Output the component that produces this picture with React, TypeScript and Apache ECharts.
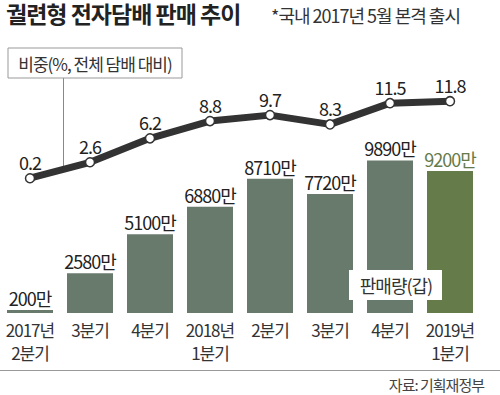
import React, { useEffect, useRef } from "react";
import * as echarts from "echarts";

const categories = ["2017년\n2분기", "3분기", "4분기", "2018년\n1분기", "2분기", "3분기", "4분기", "2019년\n1분기"];
const salesValues = [200, 2580, 5100, 6880, 8710, 7720, 9890, 9200];
const shareValues = [0.2, 2.6, 6.2, 8.8, 9.7, 8.3, 11.5, 11.8];

const FONT = "'Noto Sans CJK KR', 'Noto Sans', sans-serif";
const BAR = "#687a6b";
const GREEN = "#657b49";

export default function App() {
  const ref = useRef<HTMLDivElement>(null);
  useEffect(() => {
    if (!ref.current) return;
    const chart = echarts.init(ref.current, undefined, { renderer: "svg" });
    const last = salesValues.length - 1;
    chart.setOption({
      animation: false,
      backgroundColor: "#ffffff",
      textStyle: { fontFamily: FONT },
      grid: { left: 0, right: 20, top: 60, bottom: 82 },
      xAxis: {
        type: "category",
        data: categories,
        axisLine: { show: false },
        axisTick: { show: false },
        axisLabel: { interval: 0, color: "#333", fontSize: 17, lineHeight: 23, margin: 5, fontFamily: FONT },
      },
      yAxis: [
        { type: "value", min: 0, max: 16400, show: false, splitLine: { show: false } },
        { type: "value", min: -20.1, max: 18, show: false, splitLine: { show: false } },
      ],
      series: [
        {
          type: "bar",
          yAxisIndex: 0,
          barWidth: 46,
          data: salesValues.map((v, i) => ({
            value: v,
            itemStyle: { color: i === last ? GREEN : BAR },
            label: { color: i === last ? GREEN : "#222" },
          })),
          label: {
            show: true,
            position: "top",
            distance: 3,
            fontSize: 18,
            fontFamily: FONT,
            formatter: (p: any) => `${p.value}만`,
          },
        },
        {
          type: "line",
          yAxisIndex: 1,
          data: shareValues,
          z: 5,
          symbol: "circle",
          symbolSize: 9,
          lineStyle: { color: "#333", width: 7, cap: "round", join: "round" },
          itemStyle: { color: "#fff", borderColor: "#333", borderWidth: 1.5 },
          label: {
            show: true,
            position: "top",
            distance: 2,
            fontSize: 18,
            color: "#222",
            fontFamily: FONT,
            formatter: (p: any) => `${p.value}`,
          },
        },
      ],
      graphic: [
        {
          type: "text",
          x: 6,
          y: 13,
          style: { text: "궐련형 전자담배 판매 추이", fill: "#222", font: `bold 23px ${FONT}`, verticalAlign: "middle" },
        },
        {
          type: "text",
          x: 271,
          y: 15,
          style: { text: "*국내 2017년 5월 본격 출시", fill: "#333", font: `18px ${FONT}`, verticalAlign: "middle" },
        },
        {
          type: "rect",
          shape: { x: 8, y: 48, width: 174, height: 30 },
          style: { fill: "#fff", stroke: "#999", lineWidth: 1 },
          z: 3,
        },
        {
          type: "text",
          x: 95,
          y: 63,
          z: 4,
          style: { text: "비중(%, 전체 담배 대비)", fill: "#333", font: `17px ${FONT}`, align: "center", verticalAlign: "middle" },
        },
        {
          type: "line",
          shape: { x1: 63.5, y1: 78, x2: 63.5, y2: 166 },
          style: { stroke: "#888", lineWidth: 1 },
          z: 1,
        },
        {
          type: "rect",
          shape: { x: 349, y: 270, width: 93, height: 30 },
          style: { fill: "#fff" },
          z: 10,
        },
        {
          type: "text",
          x: 396,
          y: 285,
          z: 11,
          style: { text: "판매량(갑)", fill: "#333", font: `18px ${FONT}`, align: "center", verticalAlign: "middle" },
        },
        {
          type: "line",
          shape: { x1: 0, y1: 370.5, x2: 500, y2: 370.5 },
          style: { stroke: "#999", lineWidth: 1 },
        },
        {
          type: "text",
          x: 484,
          y: 384,
          style: { text: "자료: 기획재정부", fill: "#444", font: `15px ${FONT}`, align: "right", verticalAlign: "middle" },
        },
      ],
    });
    return () => chart.dispose();
  }, []);
  return (
    <>
      <style>{`.chart-root text { letter-spacing: -1px; }`}</style>
      <div className="chart-root" ref={ref} style={{ width: 500, height: 395, position: "absolute", left: 0, top: 0 }} />
    </>
  );
}
